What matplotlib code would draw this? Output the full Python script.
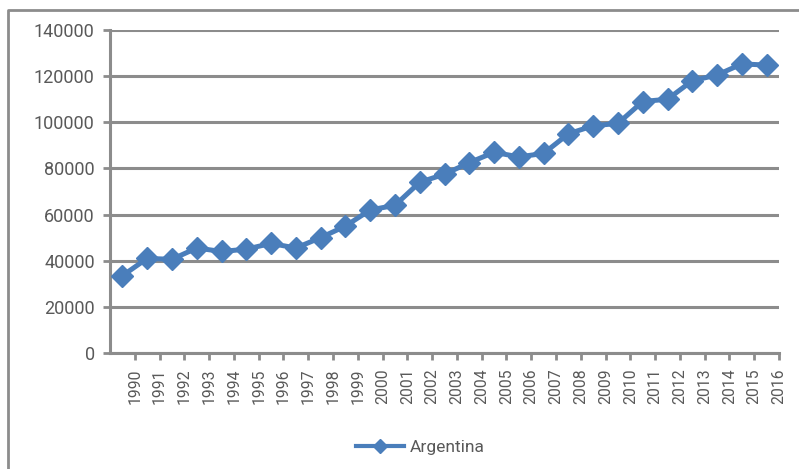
import numpy as np
import matplotlib
matplotlib.use("Agg")
import matplotlib.pyplot as plt
from matplotlib.lines import Line2D

plt.rcParams['font.family'] = ['Roboto', 'DejaVu Sans']

# Argentina series, one value per year
years = [str(y) for y in range(1990, 2017)]
values = [33500, 41000, 40600, 45500, 44000, 45000, 47500, 45500, 50000,
          55000, 62000, 64000, 74000, 77500, 82500, 87000, 85000, 86500,
          95000, 98500, 99500, 109000, 110000, 118000, 120500, 125300, 124800]
yticks = [0, 20000, 40000, 60000, 80000, 100000, 120000, 140000]
series_name = 'Argentina'

blue = '#4a7ebb'
grey = '#8c8c8c'
txt = '#595959'

W, H = 799, 469
fig = plt.figure(figsize=(W / 100, H / 100), dpi=100)
ax = fig.add_axes([110 / W, 1 - 353 / H, (779 - 110) / W, (353 - 30) / H])

x = np.arange(len(values))
ax.plot(x, values, color=blue, lw=3.6, marker='D', markersize=11,
        markeredgecolor=blue, zorder=3, clip_on=False)

ax.set_xlim(-0.5, len(values) - 0.5)
ax.set_ylim(0, 140000)

# category labels sit on the boundary ticks, as in the spreadsheet export
ax.set_xticks(x + 0.5)
ax.set_xticklabels(years, rotation=90, fontsize=11.3, color=txt)
ax.set_yticks(yticks)
ax.set_yticklabels([str(v) for v in yticks], fontsize=13, color=txt)

ax.yaxis.grid(True, color=grey, lw=2.2)
ax.set_axisbelow(True)
for s in ['top', 'right']:
    ax.spines[s].set_visible(False)
for s in ['left', 'bottom']:
    ax.spines[s].set_color(grey)
    ax.spines[s].set_linewidth(2.2)
ax.tick_params(axis='both', colors=grey, width=2, length=5)
ax.tick_params(axis='x', labelcolor=txt, pad=6)
ax.tick_params(axis='y', labelcolor=txt, pad=6)

# legend below the plot
handle = Line2D([], [], color=blue, lw=3, marker='D', markersize=7)
fig.legend([handle], [series_name], loc='center left',
           bbox_to_anchor=(340 / W, 1 - 447 / H), frameon=False,
           fontsize=12.5, labelcolor=txt, handlelength=2.8, handletextpad=0.3)

# outer chart frame (runs off the right and bottom edges)
fig.add_artist(Line2D([8 / W, 8 / W, 1.0], [0.0, 1 - 10 / H, 1 - 10 / H],
                      transform=fig.transFigure, color=grey, lw=2))

fig.savefig('out.png', dpi=100, facecolor='white')
